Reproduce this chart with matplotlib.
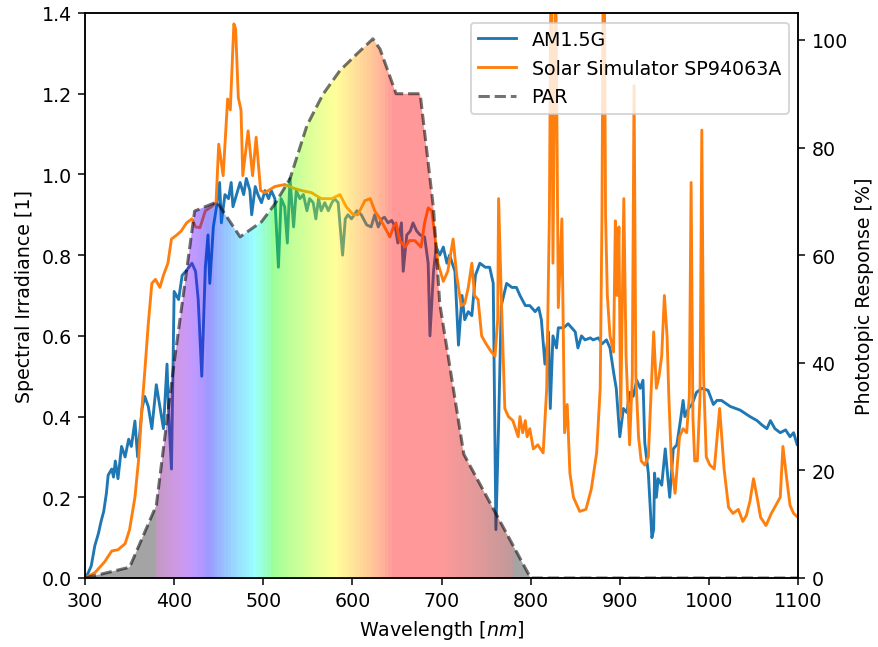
import numpy as np
import matplotlib
matplotlib.use('Agg')
import matplotlib.pyplot as plt
from matplotlib.patches import Polygon

# AM1.5G reference spectrum
am_wl = [300, 303, 307, 311, 315, 318, 321, 324, 326, 330, 332, 334, 337, 341, 345, 349,
         352, 356, 359, 364, 367, 371, 375, 380, 384, 388, 392, 394, 397, 400, 405, 409,
         413, 420, 424, 427, 431, 435, 438, 440, 444, 448, 451, 453, 457, 461, 464, 466,
         470, 474, 478, 481, 485, 487, 491, 494, 498, 502, 506, 509, 513, 517, 520, 524,
         527, 530, 534, 537, 541, 545, 549, 552, 556, 559, 562, 565, 569, 573, 577, 580,
         584, 589, 592, 595, 599, 605, 610, 616, 621, 625, 629, 633, 636, 640, 644, 648,
         651, 655, 657, 661, 665, 668, 672, 676, 681, 685, 687, 691, 694, 698, 702, 706,
         709, 715, 719, 723, 726, 730, 734, 738, 743, 749, 754, 758, 761, 764, 767, 773,
         779, 784, 788, 794, 799, 805, 809, 812, 816, 820, 822, 825, 829, 831, 837, 842,
         846, 850, 853, 857, 861, 867, 870, 876, 880, 885, 889, 893, 896, 900, 904, 908,
         911, 915, 919, 923, 926, 928, 932, 936, 938, 939, 941, 943, 947, 951, 954, 956,
         960, 964, 968, 971, 973, 977, 981, 986, 992, 999, 1005, 1009, 1014, 1024, 1035,
         1046, 1054, 1059, 1065, 1069, 1074, 1080, 1086, 1091, 1095, 1099, 1100]
am_val = [0.0, 0.01, 0.03, 0.08, 0.11, 0.14, 0.165, 0.21, 0.255, 0.27, 0.25, 0.29, 0.246,
          0.326, 0.30, 0.344, 0.326, 0.389, 0.30, 0.42, 0.45, 0.425, 0.37, 0.479, 0.425,
          0.37, 0.53, 0.40, 0.27, 0.71, 0.69, 0.75, 0.76, 0.78, 0.76, 0.69, 0.50, 0.77,
          0.85, 0.73, 0.87, 0.926, 0.98, 0.88, 0.95, 0.94, 0.98, 0.92, 0.95, 0.98, 0.95,
          0.99, 0.96, 0.90, 0.97, 0.95, 0.93, 0.96, 0.94, 0.96, 0.94, 0.77, 0.94, 0.92,
          0.83, 0.99, 0.87, 0.96, 0.94, 0.95, 0.91, 0.94, 0.93, 0.89, 0.94, 0.91, 0.93,
          0.91, 0.93, 0.94, 0.93, 0.80, 0.89, 0.90, 0.89, 0.91, 0.90, 0.875, 0.87, 0.90,
          0.87, 0.89, 0.894, 0.88, 0.886, 0.87, 0.83, 0.88, 0.76, 0.85, 0.86, 0.88, 0.86,
          0.85, 0.845, 0.78, 0.60, 0.76, 0.82, 0.80, 0.82, 0.78, 0.80, 0.76, 0.577, 0.70,
          0.64, 0.66, 0.65, 0.75, 0.78, 0.77, 0.77, 0.73, 0.12, 0.38, 0.675, 0.73, 0.72,
          0.72, 0.70, 0.675, 0.675, 0.66, 0.67, 0.64, 0.53, 0.61, 0.42, 0.60, 0.57, 0.62,
          0.62, 0.63, 0.62, 0.61, 0.57, 0.60, 0.59, 0.595, 0.59, 0.595, 0.58, 0.59, 0.57,
          0.51, 0.47, 0.35, 0.42, 0.41, 0.46, 0.45, 0.49, 0.47, 0.49, 0.335, 0.26, 0.10,
          0.12, 0.26, 0.20, 0.246, 0.23, 0.32, 0.246, 0.20, 0.32, 0.33, 0.39, 0.44, 0.40,
          0.42, 0.43, 0.46, 0.47, 0.465, 0.43, 0.44, 0.44, 0.425, 0.416, 0.40, 0.39, 0.38,
          0.37, 0.39, 0.37, 0.36, 0.367, 0.35, 0.36, 0.33, 0.335]

# Solar simulator SP94063A spectrum
sim_wl = [300, 311, 322, 330, 337, 345, 350, 356, 360, 364, 367, 371, 375, 379, 384, 388,
          393, 397, 403, 408, 414, 420, 424, 429, 435, 442, 447, 450, 455, 460, 463, 467,
          469, 472, 475, 477, 483, 488, 492, 497, 502, 513, 524, 535, 543, 554, 565, 577,
          586, 593, 601, 606, 614, 620, 625, 631, 636, 642, 646, 649, 653, 659, 664, 670,
          677, 681, 685, 689, 693, 696, 702, 707, 713, 717, 722, 726, 730, 734, 737, 741,
          745, 750, 756, 760, 763, 764, 767, 771, 775, 780, 786, 788, 791, 794, 796, 799,
          803, 808, 814, 818, 821, 823, 825, 828, 831, 835, 838, 841, 844, 848, 855, 862,
          868, 874, 878, 880, 882, 884, 886, 889, 893, 895, 897, 899, 901, 904.5, 907, 911,
          914, 916, 918, 921, 924, 928, 932, 938, 941, 944, 947, 950, 953, 955, 958, 962,
          967, 971, 975, 978, 980, 982, 984, 987, 990, 992, 994, 997, 1001, 1006, 1012,
          1017, 1022, 1027, 1033, 1038, 1042, 1046, 1050, 1054, 1058, 1064, 1070, 1075,
          1080, 1083, 1087, 1091, 1095, 1100]
sim_val = [0.0, 0.013, 0.04, 0.067, 0.07, 0.085, 0.12, 0.20, 0.29, 0.425, 0.51, 0.63, 0.73,
           0.74, 0.72, 0.75, 0.78, 0.84, 0.85, 0.86, 0.88, 0.89, 0.87, 0.868, 0.91, 0.92,
           0.93, 1.075, 0.997, 1.187, 1.16, 1.373, 1.36, 1.19, 1.16, 0.997, 1.108, 0.997,
           1.092, 0.96, 0.955, 0.97, 0.975, 0.965, 0.96, 0.955, 0.94, 0.94, 0.95, 0.92,
           0.90, 0.90, 0.935, 0.94, 0.91, 0.89, 0.87, 0.845, 0.87, 0.88, 0.836, 0.82, 0.836,
           0.836, 0.82, 0.88, 0.917, 0.91, 0.84, 0.78, 0.735, 0.76, 0.84, 0.75, 0.675, 0.68,
           0.72, 0.78, 0.70, 0.69, 0.60, 0.58, 0.56, 0.55, 0.64, 0.94, 0.70, 0.42, 0.40,
           0.39, 0.35, 0.40, 0.36, 0.39, 0.35, 0.37, 0.32, 0.33, 0.31, 0.47, 0.9, 1.6, 0.78,
           1.55, 0.67, 0.89, 0.36, 0.43, 0.26, 0.20, 0.165, 0.17, 0.22, 0.31, 0.47, 0.9,
           1.8, 0.9, 0.70, 0.60, 0.56, 0.885, 0.70, 0.87, 0.40, 0.94, 0.55, 0.33, 0.50,
           1.22, 0.50, 0.35, 0.29, 0.28, 0.30, 0.61, 0.47, 0.50, 0.55, 0.70, 0.60, 0.45,
           0.28, 0.21, 0.35, 0.37, 0.36, 0.45, 0.98, 0.40, 0.29, 0.29, 0.45, 1.11, 0.50,
           0.30, 0.28, 0.27, 0.42, 0.27, 0.175, 0.16, 0.17, 0.14, 0.155, 0.19, 0.246, 0.20,
           0.15, 0.13, 0.16, 0.18, 0.20, 0.326, 0.25, 0.18, 0.16, 0.15]

# PAR / photopic response in percent
par_wl = [300, 350, 380, 400, 423, 448, 474, 498, 513, 530, 549, 567, 586, 605, 623, 631,
          649, 676, 691, 698, 725, 800, 1100]
par_val = [0, 2, 13.5, 40, 68.2, 69.9, 63.4, 66.2, 69.5, 74.2, 84.1, 89.9, 94.3, 97.4,
           100.2, 98.3, 90, 90, 68.6, 51, 23, 0, 0]


def wavelength_to_rgb(wl, gamma=0.8):
    # Dan Bruton style visible spectrum colour, black outside 380-780 nm
    if wl < 380 or wl > 780:
        return (0.0, 0.0, 0.0)
    if wl < 440:
        r, g, b = -(wl - 440) / 60, 0.0, 1.0
    elif wl < 490:
        r, g, b = 0.0, (wl - 440) / 50, 1.0
    elif wl < 510:
        r, g, b = 0.0, 1.0, -(wl - 510) / 20
    elif wl < 580:
        r, g, b = (wl - 510) / 70, 1.0, 0.0
    elif wl < 645:
        r, g, b = 1.0, -(wl - 645) / 65, 0.0
    else:
        r, g, b = 1.0, 0.0, 0.0
    if wl < 420:
        f = 0.3 + 0.7 * (wl - 380) / 40
    elif wl > 700:
        f = 0.3 + 0.7 * (780 - wl) / 80
    else:
        f = 1.0
    return tuple((c * f) ** gamma for c in (r, g, b))


fig = plt.figure(figsize=(6.4, 4.723), dpi=137.2)
ax1 = fig.add_axes([85 / 878, 1 - 579 / 648, 713 / 878, 565 / 648])
ax2 = ax1.twinx()

h1, = ax1.plot(am_wl, am_val, color='C0', label='AM1.5G')
h2, = ax1.plot(sim_wl, sim_val, color='C1', label='Solar Simulator SP94063A')

# spectrum coloured fill under the PAR curve
strip_wl = np.arange(300, 1100, 4) + 2
img = np.zeros((1, len(strip_wl), 4))
for i, w in enumerate(strip_wl):
    img[0, i, :3] = wavelength_to_rgb(w)
    img[0, i, 3] = 0.4 if 380 <= w <= 780 else 0.36
im = ax2.imshow(img, extent=(300, 1100, 0, 105), aspect='auto', origin='lower',
                interpolation='nearest')
verts = np.column_stack([np.r_[par_wl, par_wl[-1], par_wl[0]], np.r_[par_val, 0, 0]])
clip = Polygon(verts, closed=True, transform=ax2.transData, facecolor='none', edgecolor='none')
im.set_clip_path(clip)

h3, = ax2.plot(par_wl, par_val, '--', color='k', alpha=0.55, lw=1.6, label='PAR')

ax1.set_xlim(300, 1100)
ax1.set_ylim(0, 1.4)
ax2.set_ylim(0, 105)
ax2.set_xlim(300, 1100)
ax1.set_xlabel('Wavelength [$nm$]')
ax1.set_ylabel('Spectral Irradiance [1]')
ax2.set_ylabel('Phototopic Response [%]')

ax2.legend([h1, h2, h3], [h.get_label() for h in (h1, h2, h3)], loc='upper right')

fig.savefig('out.png', dpi=137.2)
